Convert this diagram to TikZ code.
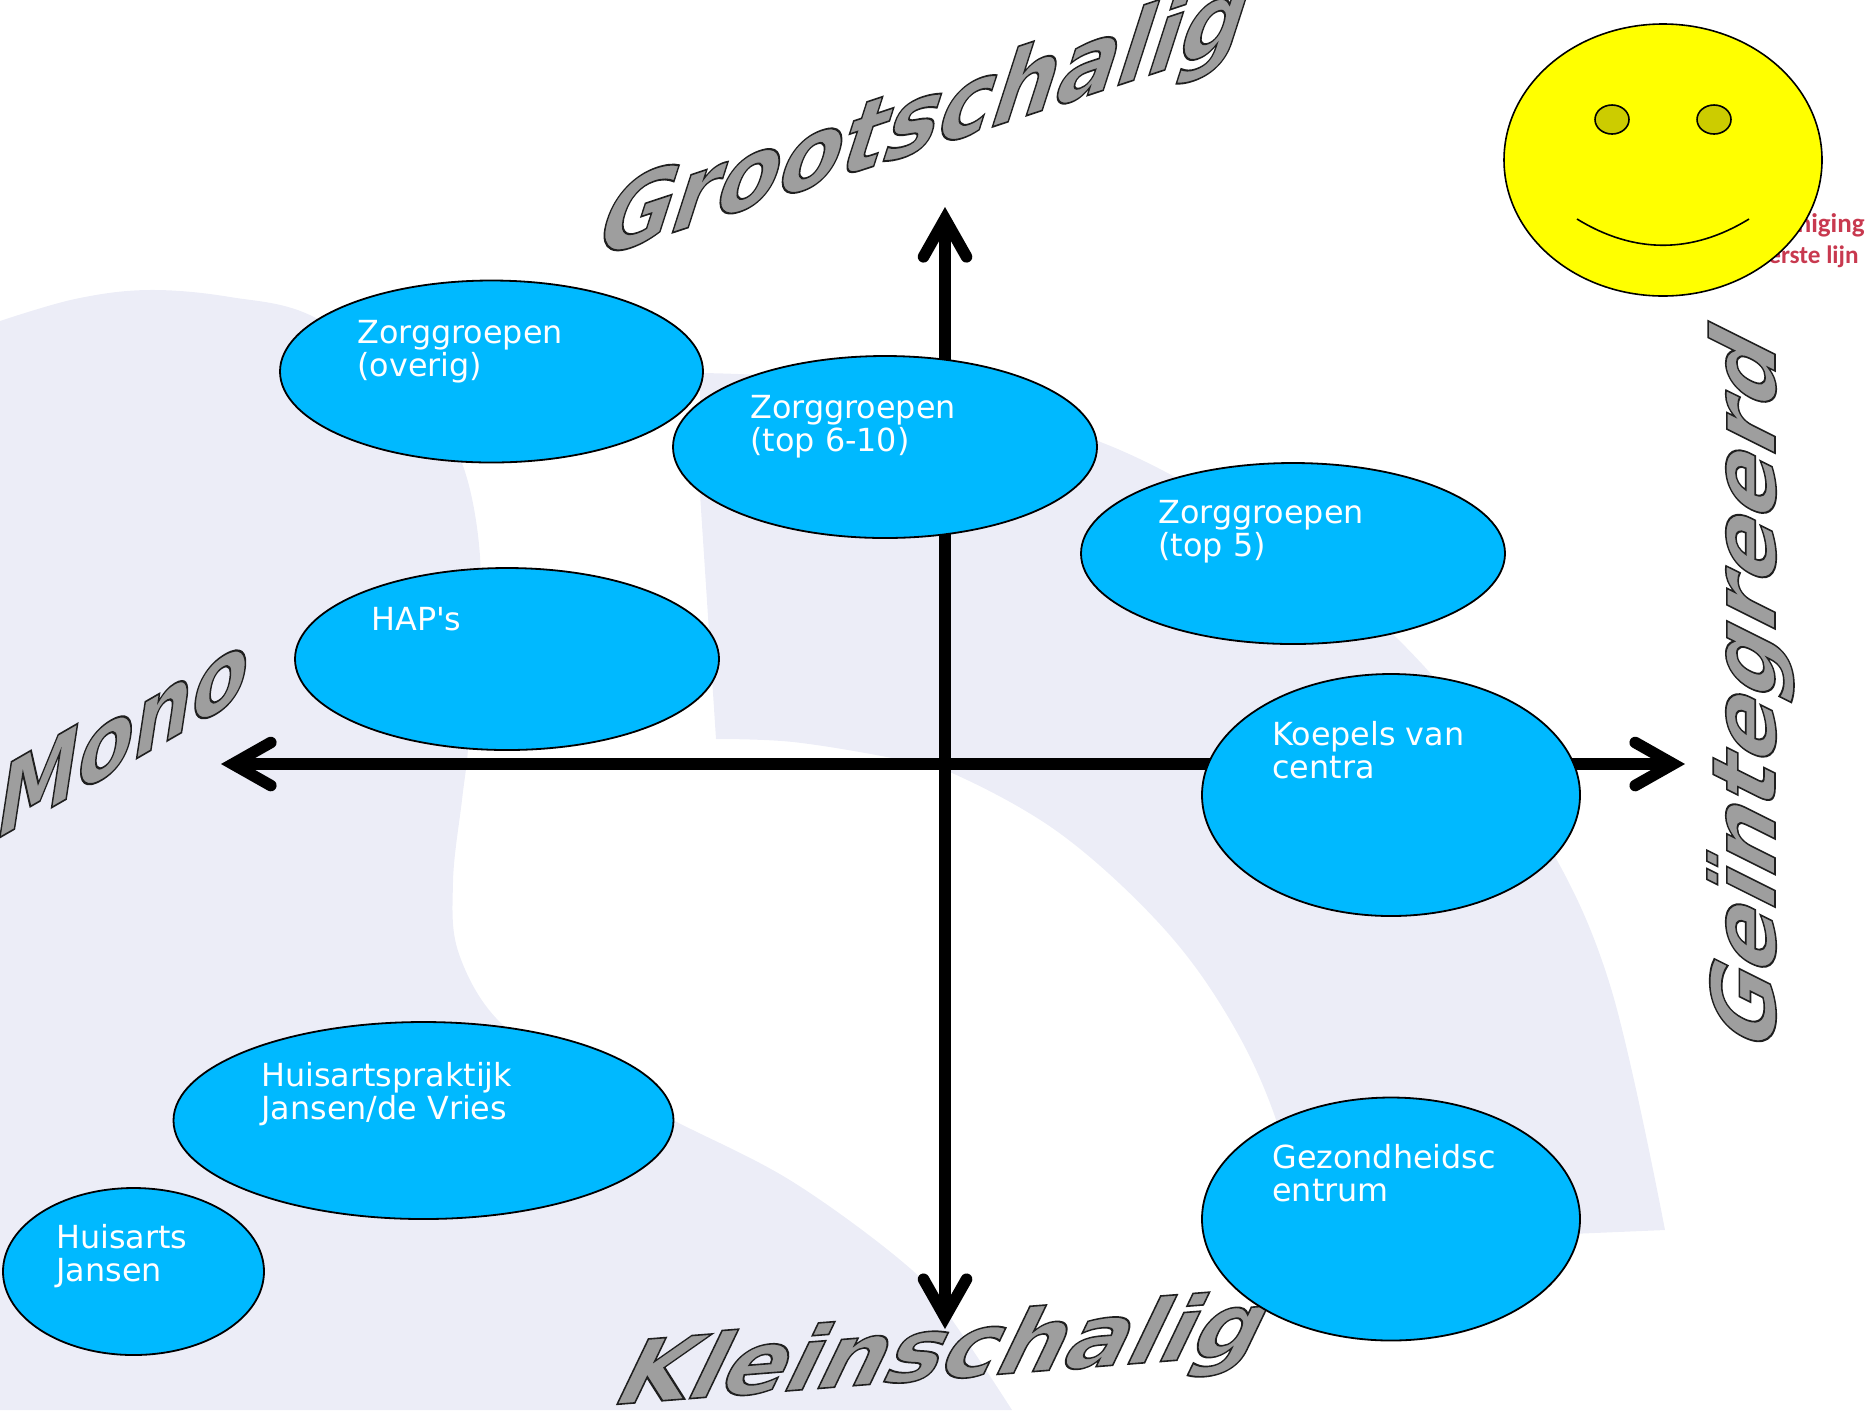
\documentclass[tikz,border=0pt]{standalone}
\usepackage{fontspec}
\setmainfont{DejaVu Sans}
\newfontfamily\plainf{DejaVu Sans}
\newfontfamily\redfont{Carlito}
\usetikzlibrary{arrows.meta,shapes.geometric}
\definecolor{wm}{HTML}{ECEDF7}
\definecolor{sky}{HTML}{00B9FF}
\definecolor{eye}{HTML}{CCCC00}
\definecolor{redtxt}{HTML}{C8394F}
\definecolor{faceyellow}{HTML}{FFFF00}
\newcommand\twol[2]{\vtop{\baselineskip=16.5pt\lineskiplimit=-100pt\hbox{#1}\hbox{#2}}}
\newcommand\outl[1]{\special{pdf:code q 2 Tr 0.8 w 0.62 g 0.12 G}#1\special{pdf:code Q}}
\tikzset{
  ell/.style={ellipse,draw=black,line width=0.9pt,fill=sky,inner sep=0pt,outer sep=0pt},
  lbl/.style={anchor=base west,inner sep=0pt,text=white,font=\fontsize{15.9}{16.5}\selectfont},
  big/.style={anchor=base west,inner sep=0pt,transform shape,font=\fontsize{#1}{#1}\selectfont\bfseries},
  axis/.style={line width=5.8pt,{Straight Barb[length=19pt,width=21.5pt,line cap=round,line join=miter]}-{Straight Barb[length=19pt,width=21.5pt,line cap=round,line join=miter]}},
}
\begin{document}
\begin{tikzpicture}[x=0.5pt,y=-0.5pt]
\useasboundingbox (0,0) rectangle (1872,1410);
% watermark
\fill[wm] (0,1410) -- (0,321) -- plot[smooth,tension=.6] coordinates {(0,321)(75,299)(148,290)(230,297)(316,318)(420,395)(462,463)(480,556)(476,650)(468,750)(462,800)(453,882)(459,954)(503,1025)(590,1075)(673,1120)(793,1182)(912,1270)(957,1327)(1012,1410)} -- cycle;
\fill[wm] (700,373) -- plot[smooth,tension=.6] coordinates {(700,373)(860,385)(1098,441)(1290,550)(1432,675)(1540,830)(1610,985)(1665,1230)} -- (1310,1245) -- plot[smooth,tension=.6] coordinates {(1310,1245)(1273,1111)(1224,1010)(1157,921)(1058,832)(952,773)(892,758)(793,742)(716,739)} -- (700,494) -- cycle;
% red logo text
\node[anchor=base east,inner sep=0pt,text=redtxt,font=\fontsize{13.5}{15}\redfont\bfseries] (logoa) at (1865,232) {niging};
\node[anchor=base east,inner sep=0pt,text=redtxt,font=\fontsize{12.6}{15}\redfont\bfseries] (logob) at (1859,263) {erste lijn};
% smiley
\node[ellipse,draw=black,line width=0.8pt,fill=faceyellow,minimum width=159pt,minimum height=136pt,inner sep=0pt] (face) at (1663,160) {};
\node[ellipse,draw=black,line width=0.8pt,fill=eye,minimum width=17pt,minimum height=14.5pt,inner sep=0pt] (eyeL) at (1612,119.5) {};
\node[ellipse,draw=black,line width=0.8pt,fill=eye,minimum width=17pt,minimum height=14.5pt,inner sep=0pt] (eyeR) at (1714,119.5) {};
\coordinate (mouthL) at (1577,219);
\coordinate (mouthR) at (1749,219);
\draw[line width=0.8pt] (mouthL) .. controls (1634,254) and (1692,254) .. (mouthR);
% axis labels
\node[big=45,rotate=18.3,xslant=.73,xscale=1.06] (groot) at (590,260) {\outl{Grootschalig}};
\node[big=43,rotate=4.5,xslant=.58,xscale=1.1] (klein) at (608,1405) {\outl{Kleinschalig}};
\node[big=41,rotate=30,xslant=.8,xscale=1.15] (mono) at (-8,842) {\outl{Mono}};
\node[big=44,rotate=90,xslant=.5,xscale=1.08] (geint) at (1775,1058) {\outl{Geïntegreerd}};
% axes
\coordinate (axL) at (221,764);
\coordinate (axR) at (1685,764);
\coordinate (axT) at (945,207);
\coordinate (axB) at (945,1329);
\draw[axis] (axL) -- (axR);
\draw[axis] (axT) -- (axB);
% ellipses
\node[ell,minimum width=211.5pt,minimum height=91pt] (e1) at (491.5,371.5) {};
\node[ell,minimum width=212pt,minimum height=91pt] (e2) at (885,447) {};
\node[ell,minimum width=212pt,minimum height=90.5pt] (e3) at (1293,553.5) {};
\node[ell,minimum width=212pt,minimum height=91pt] (e4) at (507,659) {};
\node[ell,minimum width=189pt,minimum height=121pt] (e5) at (1391,795) {};
\node[ell,minimum width=189pt,minimum height=121.5pt] (e6) at (1391,1219) {};
\node[ell,minimum width=250pt,minimum height=98.5pt] (e7) at (423.5,1120.5) {};
\node[ell,minimum width=130.5pt,minimum height=83.5pt] (e8) at (133.5,1271.5) {};
% labels
\node[lbl] (t1) at (357,343) {\twol{Zorggroepen}{(overig)}};
\node[lbl] (t2) at (750,418) {\twol{Zorggroepen}{(top 6-10)}};
\node[lbl] (t3) at (1158,523) {\twol{Zorggroepen}{(top 5)}};
\node[lbl] (t4) at (371,630) {HAP{\plainf '}s};
\node[lbl] (t5) at (1272,745) {\twol{Koepels van}{centra}};
\node[lbl] (t6) at (1272,1168) {\twol{Gezondheidsc}{entrum}};
\node[lbl] (t7) at (261,1086) {\twol{Huisartspraktijk}{Jansen/de Vries}};
\node[lbl] (t8) at (56,1248) {\twol{Huisarts}{Jansen}};
\end{tikzpicture}
\end{document}
